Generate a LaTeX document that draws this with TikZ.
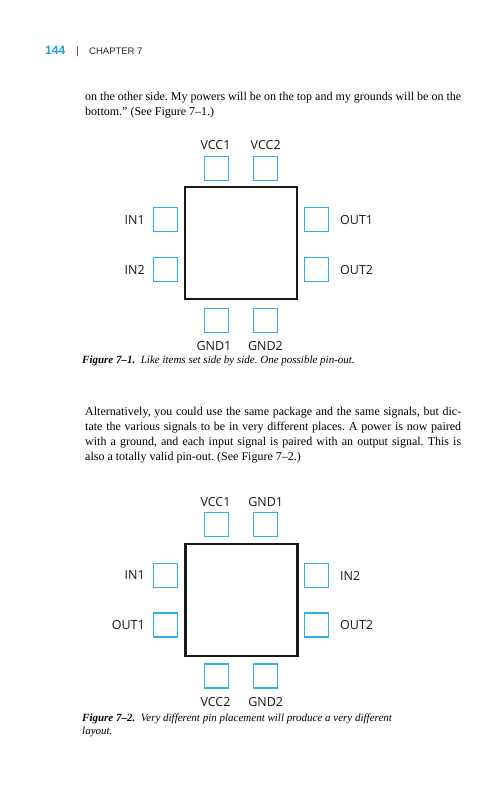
\documentclass[tikz,border=0pt]{standalone}
\usepackage{fontspec}
\setmainfont{Liberation Serif}
\newfontfamily\pinfont{Open Sans}
\newfontfamily\headfont{Liberation Sans}
\definecolor{padblue}{HTML}{2EB0E6}
\definecolor{numblue}{HTML}{1E9FD9}
\frenchspacing
\begin{document}
\begin{tikzpicture}[x=1pt,y=-1pt,
  pad/.style={draw=padblue, line width=1.3pt, minimum size=24pt, inner sep=0pt},
  chip/.style={draw=black!90, line width=2.2pt, minimum size=112pt, inner sep=0pt},
  pinlbl/.style={font=\pinfont\fontsize{12.5}{13}\selectfont, inner sep=0pt, text=black!90},
  body/.style={anchor=base west, inner sep=0pt, font=\fontsize{12}{15}\selectfont},
  capt/.style={anchor=base west, inner sep=0pt, font=\fontsize{11}{13}\selectfont\itshape},
  head/.style={anchor=base west, inner sep=0pt}]
\useasboundingbox[fill=white] (0,0) rectangle (484,800);

% header
\node[head, font=\headfont\bfseries\fontsize{12}{13}\selectfont, text=numblue] (pg) at (45,55) {144};
\node[head, font=\headfont\fontsize{10.5}{12}\selectfont, text=black!80] (bar) at (76,55) {|};
\node[head, font=\headfont\fontsize{9.5}{12}\selectfont, text=black!85] (chap) at (89,55) {CHAPTER 7};

% paragraph 1
\node[body] (p1a) at (85,100) {\makebox[376pt][s]{on the other side. My powers will be on the top and my grounds will be on the}};
\node[body] (p1b) at (85,115) {bottom.” (See Figure 7–1.)};

% figure 7-1
\node[chip] (chipA) at (241.3,243.3) {};
\node[pad] (a1) at (216.3,168.5) {};
\node[pad] (a2) at (265.7,168.5) {};
\node[pad] (a3) at (165.3,219.5) {};
\node[pad] (a4) at (165.3,269.5) {};
\node[pad] (a5) at (316.8,219.5) {};
\node[pad] (a6) at (316.8,269.5) {};
\node[pad] (a7) at (216.3,320.5) {};
\node[pad] (a8) at (265.7,320.5) {};
\node[pinlbl] (la1) at (215.5,145.5) {VCC1};
\node[pinlbl] (la2) at (265.7,145.5) {VCC2};
\node[pinlbl, anchor=east] (la3) at (145,220) {IN1};
\node[pinlbl, anchor=east] (la4) at (145,270) {IN2};
\node[pinlbl, anchor=west] (la5) at (340,220) {OUT1};
\node[pinlbl, anchor=west] (la6) at (340,270) {OUT2};
\node[pinlbl] (la7) at (214,346) {GND1};
\node[pinlbl] (la8) at (265.5,346) {GND2};
\node[capt] (capA) at (82,363) {\textbf{Figure 7–1.}\hspace{0.5em}Like items set side by side. One possible pin-out.};

% paragraph 2
\node[body] (p2a) at (85,415) {\makebox[376pt][s]{Alternatively, you could use the same package and the same signals, but dic-}};
\node[body] (p2b) at (85,430) {\makebox[376pt][s]{tate the various signals to be in very different places. A power is now paired}};
\node[body] (p2c) at (85,445) {\makebox[376pt][s]{with a ground, and each input signal is paired with an output signal. This is}};
\node[body] (p2d) at (85,460) {also a totally valid pin-out. (See Figure 7–2.)};

% figure 7-2
\node[chip] (chipB) at (241.5,600) {};
\node[pad] (b1) at (216.3,524.5) {};
\node[pad] (b2) at (265.7,524.5) {};
\node[pad] (b3) at (165.3,575.5) {};
\node[pad] (b4) at (165.3,625) {};
\node[pad] (b5) at (316.8,575.5) {};
\node[pad] (b6) at (316.8,625) {};
\node[pad] (b7) at (216.3,676) {};
\node[pad] (b8) at (265.7,676) {};
\node[pinlbl] (lb1) at (215.5,501.7) {VCC1};
\node[pinlbl] (lb2) at (265.7,501.7) {GND1};
\node[pinlbl, anchor=east] (lb3) at (145,575.5) {IN1};
\node[pinlbl, anchor=east] (lb4) at (145,625) {OUT1};
\node[pinlbl, anchor=west] (lb5) at (340,575.5) {IN2};
\node[pinlbl, anchor=west] (lb6) at (340,625) {OUT2};
\node[pinlbl] (lb7) at (215.5,701.7) {VCC2};
\node[pinlbl] (lb8) at (265.7,701.7) {GND2};
\node[capt] (capB1) at (82,721) {\textbf{Figure 7–2.}\hspace{0.5em}Very different pin placement will produce a very different};
\node[capt] (capB2) at (82,734) {layout.};
\end{tikzpicture}
\end{document}
